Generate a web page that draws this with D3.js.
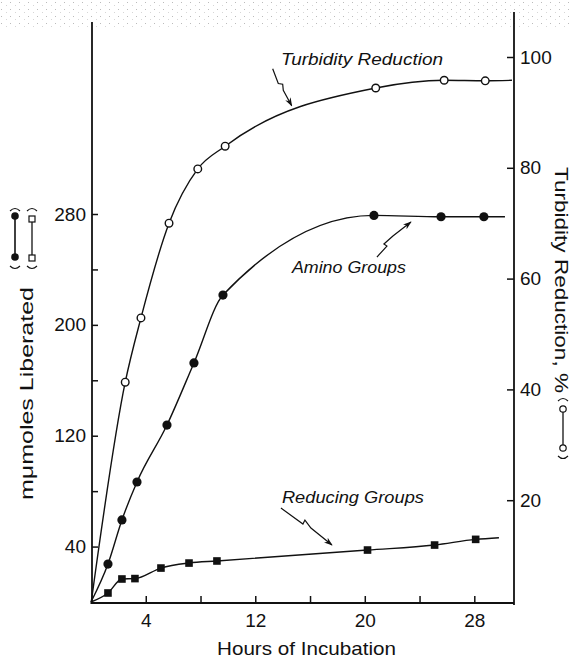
<!DOCTYPE html>
<html>
<head>
<meta charset="utf-8">
<script src="https://cdn.jsdelivr.net/npm/d3@7"></script>
<style>
  body { margin: 0; background: #fff; }
  svg { display: block; }
  text { fill: #111; }
</style>
</head>
<body>
<div id="chart"></div>
<script>
// Turbidity reduction, % (open circles, right axis)
const turbidityHours = [2.5, 3.65, 5.7, 7.8, 9.8, 20.8, 25.8, 28.8];
const turbidityPct = [41.3, 52.9, 70.0, 79.8, 83.9, 94.4, 95.8, 95.7];
const turbidityStart = [0, 1.3];
const turbidityEnd = [30.75, 95.8];

// Amino groups, mμmoles (filled circles, left axis)
const aminoHours = [1.24, 2.26, 3.36, 5.55, 7.52, 9.64, 20.67, 25.57, 28.7];
const aminoValues = [27.4, 59.2, 86.6, 127.7, 172.5, 221.5, 279.0, 278.0, 278.0];
const aminoStart = [0, 0];
const aminoEnd = [30.24, 278.0];

// Reducing groups, mμmoles (filled squares, left axis)
const reducingHours = [1.24, 2.26, 3.21, 5.11, 7.16, 9.2, 20.2, 25.1, 28.1];
const reducingValues = [6.5, 16.6, 16.9, 24.5, 28.1, 29.6, 37.5, 41.1, 45.2];
const reducingStart = [0, 0];
const reducingEnd = [29.8, 46.4];

// axis ticks
const hourTicks = [4, 8, 12, 16, 20, 24, 28];
const hourLabels = [4, 12, 20, 28];
const leftTicks = [40, 80, 120, 160, 200, 240, 280];
const leftLabels = [40, 120, 200, 280];
const rightTicks = [20, 40, 60, 80, 100];

const W = 573, H = 658;
const numFont = "'Liberation Sans', sans-serif";

const svg = d3.select("#chart").append("svg")
    .attr("width", W)
    .attr("height", H);

svg.append("rect").attr("width", W).attr("height", H).attr("fill", "#fff");

// faint scan speckle along the top edge
const defs = svg.append("defs");
const pat = defs.append("pattern")
    .attr("id", "speckle")
    .attr("width", 9).attr("height", 7)
    .attr("patternUnits", "userSpaceOnUse");
pat.append("rect").attr("x", 1).attr("y", 2).attr("width", 1).attr("height", 1).attr("fill", "#aaa");
pat.append("rect").attr("x", 6).attr("y", 5).attr("width", 1).attr("height", 1).attr("fill", "#ccc");
svg.append("rect").attr("x", 0).attr("y", 0).attr("width", W).attr("height", 28)
    .attr("fill", "url(#speckle)").attr("opacity", 0.8);

defs.append("marker")
    .attr("id", "head")
    .attr("viewBox", "0 -4 10 8")
    .attr("refX", 9).attr("refY", 0)
    .attr("markerWidth", 9).attr("markerHeight", 7)
    .attr("markerUnits", "userSpaceOnUse")
    .attr("orient", "auto")
    .append("path")
    .attr("d", "M0,-3.5L10,0L0,3.5L3,0Z")
    .attr("fill", "#111");

const x = d3.scaleLinear().domain([0, 30.9]).range([91, 514]);
const yLeft = d3.scaleLinear().domain([0, 280]).range([602, 214]);
const yRight = d3.scaleLinear().domain([0, 100]).range([611, 57]);

// axis lines
svg.append("line").attr("x1", 91).attr("x2", 514).attr("y1", 603).attr("y2", 603)
    .attr("stroke", "#111").attr("stroke-width", 1.8);
svg.append("line").attr("x1", 92).attr("x2", 92).attr("y1", 604).attr("y2", 22)
    .attr("stroke", "#111").attr("stroke-width", 1.8);
svg.append("line").attr("x1", 514).attr("x2", 514).attr("y1", 605).attr("y2", 12)
    .attr("stroke", "#111").attr("stroke-width", 1.8);

function styleAxis(g) {
    g.select(".domain").remove();
    g.selectAll(".tick line").attr("stroke", "#111").attr("stroke-width", 1.5);
    g.selectAll(".tick text")
        .attr("font-family", numFont)
        .attr("font-size", 19)
        .attr("fill", "#111");
}

svg.append("g")
    .attr("transform", "translate(0,603)")
    .call(d3.axisBottom(x).tickValues(hourTicks)
        .tickFormat(d => hourLabels.includes(d) ? d : "")
        .tickSizeInner(-7).tickSizeOuter(0).tickPadding(11))
    .call(styleAxis);

svg.append("g")
    .attr("transform", "translate(92,0)")
    .call(d3.axisLeft(yLeft).tickValues(leftTicks)
        .tickFormat(d => leftLabels.includes(d) ? d : "")
        .tickSizeInner(-6).tickSizeOuter(0).tickPadding(6))
    .call(styleAxis);

svg.append("g")
    .attr("transform", "translate(514,0)")
    .call(d3.axisRight(yRight).tickValues(rightTicks)
        .tickSizeInner(-7).tickSizeOuter(0).tickPadding(6))
    .call(styleAxis);

// curves
function drawSeries(hours, values, start, end, y) {
    const pts = [start].concat(hours.map((h, i) => [h, values[i]]), [end]);
    const line = d3.line()
        .x(d => x(d[0]))
        .y(d => y(d[1]))
        .curve(d3.curveMonotoneX);
    svg.append("path")
        .attr("d", line(pts))
        .attr("fill", "none")
        .attr("stroke", "#111")
        .attr("stroke-width", 1.4);
    return hours.map((h, i) => [x(h), y(values[i])]);
}

const turbPts = drawSeries(turbidityHours, turbidityPct, turbidityStart, turbidityEnd, yRight);
const aminoPts = drawSeries(aminoHours, aminoValues, aminoStart, aminoEnd, yLeft);
const redPts = drawSeries(reducingHours, reducingValues, reducingStart, reducingEnd, yLeft);

svg.append("g").selectAll("circle").data(turbPts).join("circle")
    .attr("cx", d => d[0]).attr("cy", d => d[1]).attr("r", 3.8)
    .attr("fill", "#fff").attr("stroke", "#111").attr("stroke-width", 1.4);

svg.append("g").selectAll("circle").data(aminoPts).join("circle")
    .attr("cx", d => d[0]).attr("cy", d => d[1]).attr("r", 4.6)
    .attr("fill", "#111");

svg.append("g").selectAll("rect").data(redPts).join("rect")
    .attr("x", d => d[0] - 3.8).attr("y", d => d[1] - 3.8)
    .attr("width", 7.6).attr("height", 7.6)
    .attr("fill", "#111");

// annotations: tip in data units, squiggle and label as pixel offsets
const annotations = [
    { text: "Turbidity Reduction", tip: [14.66, 91.2], y: yRight, len: 162,
      textOff: [-10.7, -40.5],
      squiggle: [[-19, -37], [-13.4, -22.2], [-9, -21.5], [-8.4, -15.5], [0, 0]] },
    { text: "Amino Groups", tip: [23.37, 274.2], y: yLeft, len: 114,
      textOff: [-119, 51],
      squiggle: [[-34, 35], [-24, 24], [-27, 22], [-18, 14], [0, 0]] },
    { text: "Reducing Groups", tip: [17.6, 41.1], y: yLeft, len: 142,
      textOff: [-50, -42],
      squiggle: [[-51, -37], [-29, -21], [-27, -25], [-21, -17], [0, 0]] }
];

annotations.forEach(a => {
    const tx = x(a.tip[0]), ty = a.y(a.tip[1]);
    svg.append("text")
        .attr("x", tx + a.textOff[0])
        .attr("y", ty + a.textOff[1])
        .attr("font-family", "'Liberation Sans', sans-serif")
        .attr("font-style", "italic")
        .attr("font-size", 17)
        .attr("textLength", a.len)
        .attr("lengthAdjust", "spacingAndGlyphs")
        .text(a.text);
    svg.append("path")
        .attr("d", d3.line()(a.squiggle.map(p => [tx + p[0], ty + p[1]])))
        .attr("fill", "none")
        .attr("stroke", "#111")
        .attr("stroke-width", 1.2)
        .attr("marker-end", "url(#head)");
});

// left axis title with legend keys
const titleFont = "'Liberation Sans', sans-serif";
svg.append("text")
    .attr("transform", "translate(33,500) rotate(-90)")
    .attr("font-family", titleFont)
    .attr("font-size", 19)
    .attr("textLength", 213)
    .attr("lengthAdjust", "spacingAndGlyphs")
    .text("mμmoles Liberated");

function paren(cx, cy, up) {
    const s = up ? -1 : 1;
    svg.append("path")
        .attr("d", `M${cx - 5},${cy} Q${cx},${cy + s * 5} ${cx + 5},${cy}`)
        .attr("fill", "none").attr("stroke", "#111").attr("stroke-width", 1.1);
}

// filled circle key
svg.append("line").attr("x1", 15).attr("x2", 15).attr("y1", 216).attr("y2", 257)
    .attr("stroke", "#111").attr("stroke-width", 1.6);
[216, 257].forEach(cy => svg.append("circle").attr("cx", 15).attr("cy", cy).attr("r", 3.8).attr("fill", "#111"));
paren(15, 211, true);
paren(15, 266, false);

// square key
svg.append("line").attr("x1", 32).attr("x2", 32).attr("y1", 219).attr("y2", 258)
    .attr("stroke", "#111").attr("stroke-width", 1.3);
[219, 258].forEach(cy => svg.append("rect").attr("x", 29).attr("y", cy - 3).attr("width", 6).attr("height", 6)
    .attr("fill", "#fff").attr("stroke", "#111").attr("stroke-width", 1.2));
paren(32, 211, true);
paren(32, 266, false);

// right axis title with open-circle key
svg.append("text")
    .attr("transform", "translate(555,167) rotate(90)")
    .attr("font-family", titleFont)
    .attr("font-size", 18)
    .attr("textLength", 226)
    .attr("lengthAdjust", "spacingAndGlyphs")
    .text("Turbidity Reduction, %");

svg.append("line").attr("x1", 563).attr("x2", 563).attr("y1", 409).attr("y2", 448)
    .attr("stroke", "#111").attr("stroke-width", 1.3);
[409, 448].forEach(cy => svg.append("circle").attr("cx", 563).attr("cy", cy).attr("r", 3.2)
    .attr("fill", "#fff").attr("stroke", "#111").attr("stroke-width", 1.2));
svg.append("path").attr("d", "M558,401 Q563,396 568,401").attr("fill", "none").attr("stroke", "#111").attr("stroke-width", 1.1);
svg.append("path").attr("d", "M558,456 Q563,461 568,456").attr("fill", "none").attr("stroke", "#111").attr("stroke-width", 1.1);

// x axis title
svg.append("text")
    .attr("x", 217)
    .attr("y", 655)
    .attr("font-family", titleFont)
    .attr("font-size", 19)
    .attr("textLength", 179)
    .attr("lengthAdjust", "spacingAndGlyphs")
    .text("Hours of Incubation");
</script>
</body>
</html>
